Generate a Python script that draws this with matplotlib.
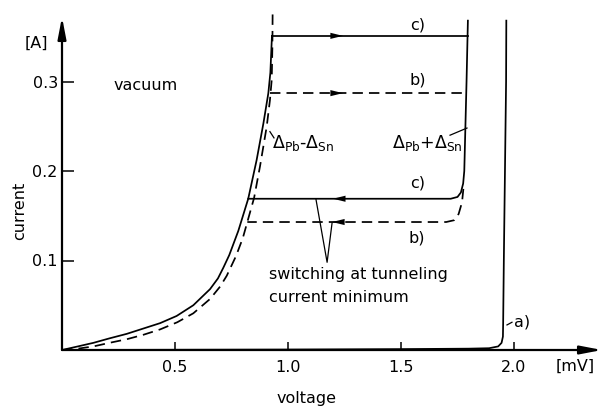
import matplotlib
matplotlib.use("Agg")
import matplotlib.pyplot as plt

# ---------------- data (voltage in mV, current in A) ----------------
# rising branch, case c) (solid)
c_rise_v = [0.0, 0.07, 0.139, 0.21, 0.286, 0.36, 0.434, 0.507, 0.581, 0.655, 0.69, 0.714,
            0.74, 0.78, 0.824, 0.861, 0.891, 0.913, 0.922, 0.929]
c_rise_i = [0.0, 0.004, 0.008, 0.013, 0.018, 0.024, 0.030, 0.038, 0.050, 0.068, 0.080, 0.092,
            0.106, 0.133, 0.169, 0.212, 0.253, 0.287, 0.31, 0.351]
c_top_v = [0.929, 1.796]
c_top_i = [0.351, 0.351]
c_return_v = [1.796, 1.79, 1.78, 1.775, 1.765, 1.75, 1.72, 0.824]
c_return_i = [0.368, 0.30, 0.20, 0.186, 0.176, 0.171, 0.169, 0.169]

# rising branch, case b) (dashed)
b_rise_v = [0.0, 0.07, 0.139, 0.21, 0.286, 0.36, 0.434, 0.51, 0.581, 0.655, 0.70, 0.729,
            0.77, 0.80, 0.82, 0.85, 0.876, 0.906, 0.92, 0.928, 0.931, 0.932]
b_rise_i = [0.0, 0.0015, 0.004, 0.008, 0.012, 0.017, 0.023, 0.031, 0.041, 0.057, 0.071, 0.083,
            0.105, 0.125, 0.143, 0.17, 0.205, 0.25, 0.279, 0.302, 0.34, 0.378]
b_top_v = [0.92, 1.776]
b_top_i = [0.287, 0.287]
b_return_v = [1.776, 1.77, 1.755, 1.735, 1.70, 0.82]
b_return_i = [0.180, 0.165, 0.152, 0.145, 0.143, 0.143]

# case a) (no switching)
a_v = [0.0, 1.0, 1.5, 1.8, 1.89, 1.93, 1.945, 1.951, 1.952, 1.955, 1.96, 1.965, 1.966]
a_i = [0.0, 0.0005, 0.001, 0.0015, 0.002, 0.004, 0.008, 0.015, 0.03, 0.1, 0.2, 0.3, 0.368]

# arrow tips (voltage, current, direction)
arrow_tips = [(1.243, 0.351, 1), (1.243, 0.287, 1),
              (1.199, 0.169, -1), (1.195, 0.143, -1)]

x_ticks = [0.5, 1.0, 1.5, 2.0]
x_tick_labels = ["0.5", "1.0", "1.5", "2.0"]
y_ticks = [0.1, 0.2, 0.3]
y_tick_labels = ["0.1", "0.2", "0.3"]

# ---------------- figure ----------------
W, H = 605, 411
fig = plt.figure(figsize=(W / 100, H / 100), dpi=100)
x0px, x1px = 62, 602
y0px, y1px = 350, 5
ax = fig.add_axes([x0px / W, (H - y0px) / H, (x1px - x0px) / W, (y0px - y1px) / H])
xmax = (x1px - x0px) / 226.0
ymax = (y0px - y1px) / 895.0
ax.set_xlim(0, xmax)
ax.set_ylim(0, ymax)
for s in ax.spines.values():
    s.set_visible(False)

FS = 11.5
lw = 1.25
dash = (0, (6, 3.5))

ax.plot(c_rise_v, c_rise_i, color="black", lw=lw)
ax.plot(c_top_v, c_top_i, color="black", lw=lw)
ax.plot(c_return_v, c_return_i, color="black", lw=lw)
ax.plot(b_rise_v, b_rise_i, color="black", lw=lw, linestyle=dash)
ax.plot(b_top_v, b_top_i, color="black", lw=lw, linestyle=dash)
ax.plot(b_return_v, b_return_i, color="black", lw=lw, linestyle=dash)
ax.plot(a_v, a_i, color="black", lw=lw)

for v, i, d in arrow_tips:
    ax.annotate("", xy=(v, i), xytext=(v - d * 0.07, i),
                arrowprops=dict(arrowstyle="-|>,head_length=0.9,head_width=0.22",
                                color="black", lw=0.01, shrinkA=0, shrinkB=0))

# axes with arrows
ax.annotate("", xy=(xmax, 0), xytext=(0, 0), annotation_clip=False,
            arrowprops=dict(arrowstyle="-|>,head_length=1.3,head_width=0.25",
                            color="black", lw=1.6, shrinkA=0, shrinkB=0))
ax.annotate("", xy=(0, (y0px - 17) / 895.0), xytext=(0, 0), annotation_clip=False,
            arrowprops=dict(arrowstyle="-|>,head_length=1.3,head_width=0.25",
                            color="black", lw=1.6, shrinkA=0, shrinkB=0))

ax.set_xticks(x_ticks)
ax.set_xticklabels(x_tick_labels)
ax.set_yticks(y_ticks)
ax.set_yticklabels(y_tick_labels)
ax.tick_params(axis="x", direction="in", length=5.5, width=1.1, pad=7, labelsize=FS)
ax.tick_params(axis="y", direction="in", length=8.5, width=1.1, pad=3, labelsize=FS)

# texts
ax.text(0.372, 0.296, "vacuum", fontsize=FS, ha="center", va="center")
ax.text(-0.115, 0.343, "[A]", fontsize=FS, ha="center", va="center", clip_on=False)
ax.text(-0.186, 0.156, "current", fontsize=FS, ha="center", va="center",
        rotation=90, clip_on=False)
ax.text(1.084, -0.054, "voltage", fontsize=FS, ha="center", va="center", clip_on=False)
ax.text(2.27, -0.018, "[mV]", fontsize=FS, ha="center", va="center", clip_on=False)

ax.text(1.575, 0.363, "c)", fontsize=FS, ha="center", va="center")
ax.text(1.575, 0.302, "b)", fontsize=FS, ha="center", va="center")
ax.text(1.575, 0.187, "c)", fontsize=FS, ha="center", va="center")
ax.text(1.571, 0.125, "b)", fontsize=FS, ha="center", va="center")
ax.text(2.00, 0.031, "a)", fontsize=FS, ha="left", va="center")

ax.text(0.929, 0.231, r"$\Delta_{\rm Pb}$-$\Delta_{\rm Sn}$", fontsize=FS + 1,
        ha="left", va="center")
ax.text(1.46, 0.231, r"$\Delta_{\rm Pb}$+$\Delta_{\rm Sn}$", fontsize=FS + 1,
        ha="left", va="center")
ax.text(0.916, 0.084, "switching at tunneling", fontsize=FS, ha="left", va="center")
ax.text(0.916, 0.059, "current minimum", fontsize=FS, ha="left", va="center")

# leader lines
lk = dict(color="black", lw=0.9)
ax.plot([1.124, 1.173, 1.195], [0.168, 0.098, 0.142], **lk)
ax.plot([1.717, 1.792], [0.240, 0.248], **lk)
ax.plot([0.920, 0.938], [0.244, 0.237], **lk)
ax.plot([1.969, 1.991], [0.028, 0.031], **lk)

fig.savefig("out.png", dpi=100)
